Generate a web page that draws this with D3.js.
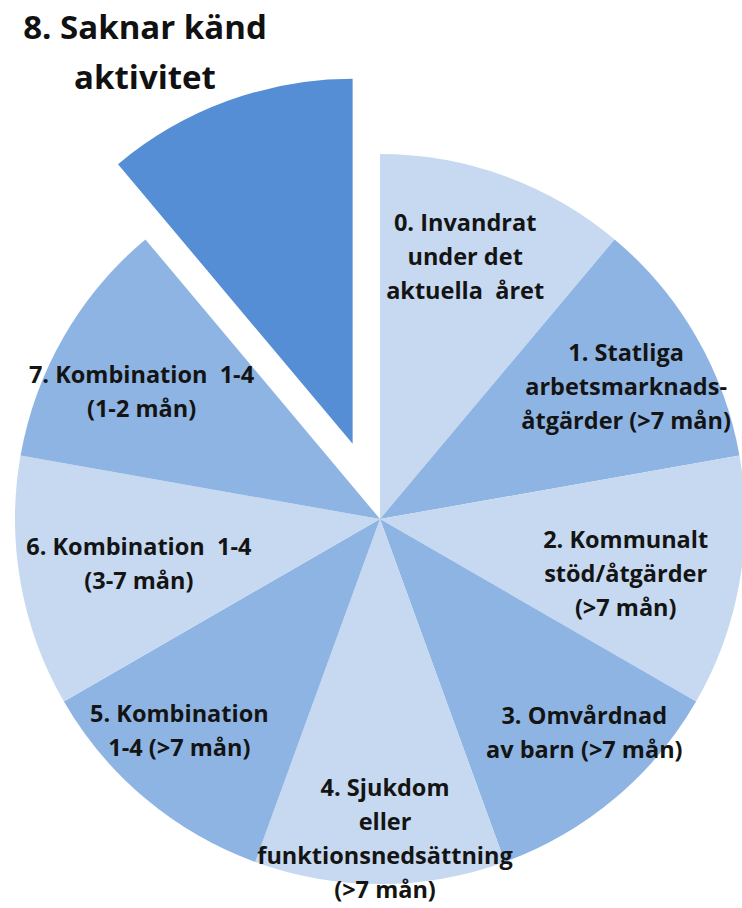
<!DOCTYPE html>
<html><head><meta charset="utf-8">
<script src="https://cdn.jsdelivr.net/npm/d3@7"></script>
<style>body{margin:0;background:#fff}svg{display:block}</style>
</head><body><svg id="c" width="742" height="908"></svg>
<script>
// ---- data ----
const categories = [
  "0. Invandrat under det aktuella året",
  "1. Statliga arbetsmarknadsåtgärder (>7 mån)",
  "2. Kommunalt stöd/åtgärder (>7 mån)",
  "3. Omvårdnad av barn (>7 mån)",
  "4. Sjukdom eller funktionsnedsättning (>7 mån)",
  "5. Kombination 1-4 (>7 mån)",
  "6. Kombination 1-4 (3-7 mån)",
  "7. Kombination 1-4 (1-2 mån)",
  "8. Saknar känd aktivitet"
];
const labelLines = [
  ["0. Invandrat", "under det", "aktuella  året"],
  ["1. Statliga", "arbetsmarknads-", "åtgärder (>7 mån)"],
  ["2. Kommunalt", "stöd/åtgärder", "(>7 mån)"],
  ["3. Omvårdnad", "av barn (>7 mån)"],
  ["4. Sjukdom", "eller", "funktionsnedsättning", "(>7 mån)"],
  ["5. Kombination", "1-4 (>7 mån)"],
  ["6. Kombination  1-4", "(3-7 mån)"],
  ["7. Kombination  1-4", "(1-2 mån)"],
  ["8. Saknar känd", "aktivitet"]
];
const values = [1, 1, 1, 1, 1, 1, 1, 1, 1];
const explodedIndex = 8;

// ---- style / layout ----
const colors = ["#c6d9f1", "#8eb4e3", "#c6d9f1", "#8eb4e3", "#c6d9f1", "#8eb4e3", "#c6d9f1", "#8eb4e3", "#558ed5"];
const labelRadiusFactor = [0.755, 0.765, 0.69, 0.81, 0.877, 0.80, 0.672, 0.74];
const labelAngleShift = [-2, 1.8, 2.7, -3.7, -0.9, 3.4, -0.5, -2];   // degrees
const cx = 380, cy = 519, R = 365, explode = 80;
const lineH = 34;

const svg = d3.select("#c");
const g = svg.append("g").attr("transform", `translate(${cx},${cy})`);

const pie = d3.pie().sort(null).value(d => d);
const arcs = pie(values);
const arc = d3.arc().innerRadius(0).outerRadius(R);

g.selectAll("path.slice").data(arcs).join("path")
  .attr("class", "slice")
  .attr("d", arc)
  .attr("fill", (d, i) => colors[i])
  .attr("transform", (d, i) => {
    if (i !== explodedIndex) return null;
    const a = (d.startAngle + d.endAngle) / 2;
    return `translate(${explode * Math.sin(a)},${-explode * Math.cos(a)})`;
  });

const font = "'Open Sans', 'DejaVu Sans', sans-serif";
arcs.forEach((d, i) => {
  if (i === explodedIndex) return;
  const r = R * labelRadiusFactor[i];
  const shift = labelAngleShift[i] * Math.PI / 180;
  const la = d3.arc().innerRadius(r).outerRadius(r);
  const [x, y] = la.centroid({startAngle: d.startAngle + shift, endAngle: d.endAngle + shift});
  const lines = labelLines[i];
  const t = g.append("text")
    .attr("text-anchor", "middle")
    .attr("font-family", font)
    .attr("font-weight", 700)
    .attr("font-size", 23.5)
    .attr("fill", "#141414")
    .style("white-space", "pre");
  lines.forEach((s, k) => {
    t.append("tspan")
      .attr("x", x)
      .attr("y", y + (k - (lines.length - 1) / 2) * lineH + 8)
      .text(s);
  });
});

// label of the exploded slice, shown as heading
const title = svg.append("text")
  .attr("text-anchor", "middle")
  .attr("font-family", font)
  .attr("font-weight", 700)
  .attr("font-size", 33)
  .attr("fill", "#111");
labelLines[explodedIndex].forEach((s, k) => {
  title.append("tspan").attr("x", 145).attr("y", 39 + k * 50).text(s);
});
</script>
</body></html>
